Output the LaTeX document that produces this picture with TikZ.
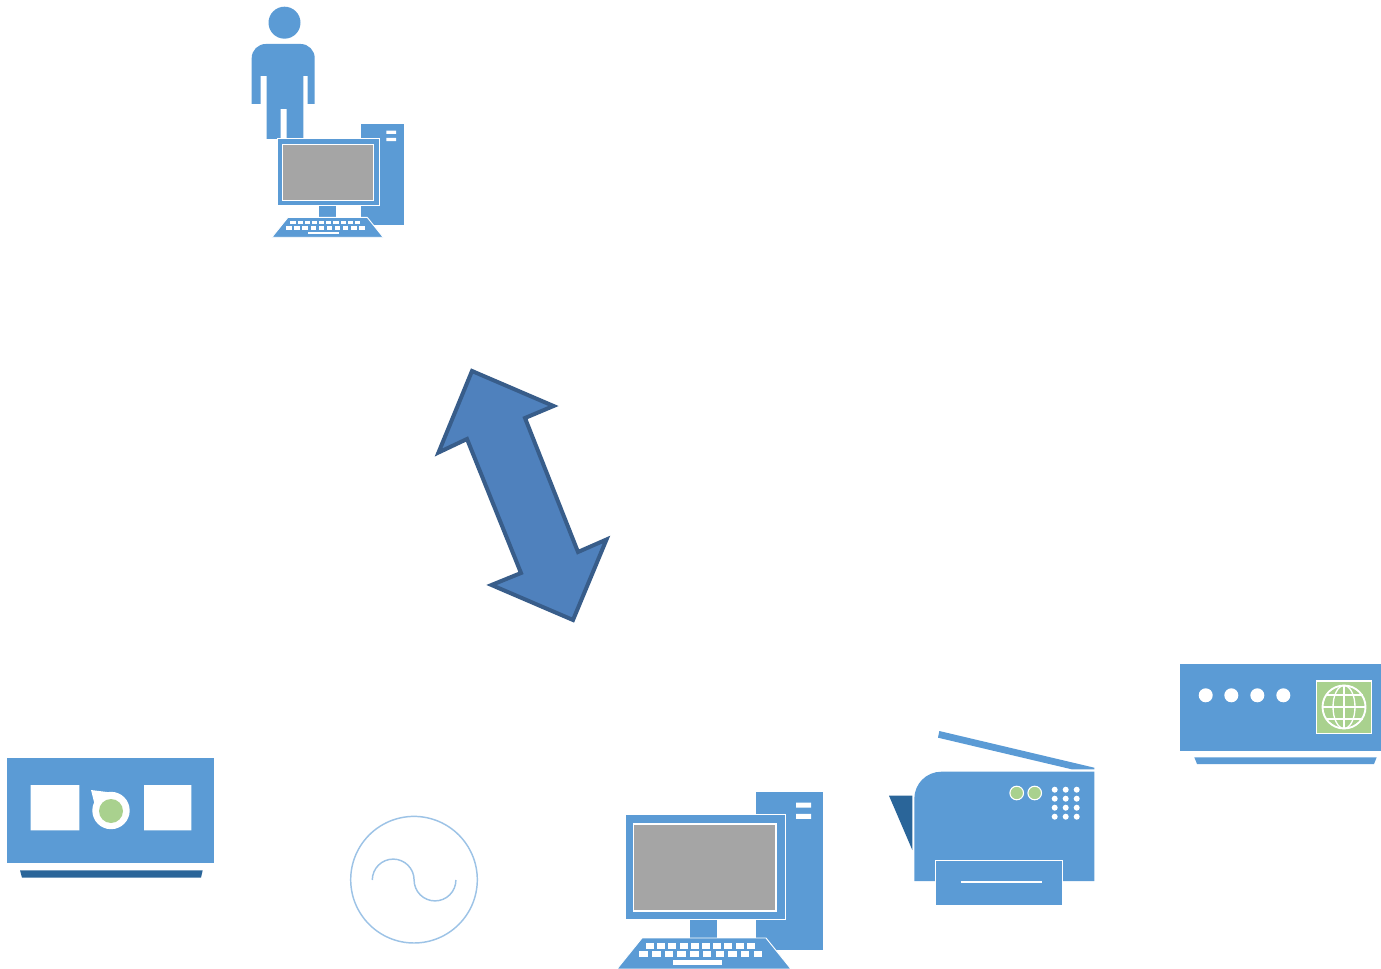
\documentclass[tikz,border=0pt]{standalone}
\definecolor{iconblue}{HTML}{5B9BD5}
\definecolor{icondark}{HTML}{2A6599}
\definecolor{icongreen}{HTML}{A9D18E}
\definecolor{icongray}{HTML}{A5A5A5}
\definecolor{arrowfill}{HTML}{4F81BD}
\definecolor{arrowline}{HTML}{385D8A}
\definecolor{waveline}{HTML}{9DC3E6}
\begin{document}
\begin{tikzpicture}[
        x=0.75pt, y=-0.75pt,
        icon/.style={fill=iconblue},
        outlined/.style={fill=iconblue, draw=white, line width=0.7pt},
        hole/.style={fill=white},
        lamp/.style={fill=icongreen, draw=white, line width=0.8pt},
        gridline/.style={draw=white, line width=1pt},
        computer/.pic={
          \fill[icon] (130.7,0) rectangle (198,158);
          \fill[hole] (171,10.5) rectangle (186,15.5) (171,21.8) rectangle (186,26.8);
          \fill[icon] (65,127) rectangle (92,147);
          \draw[outlined] (0,22) rectangle (160,127);
          \draw[fill=icongray, draw=white, line width=0.9pt] (8.5,32) rectangle (151,119);
          \draw[outlined] (17,146) -- (141,146) -- (166,177) -- (-8,177) -- cycle;
          \foreach \k in {0,...,9} {
            \fill[hole] (21+11.2*\k,150.8) rectangle ++(8,6);
            \fill[hole] (14.3+12.7*\k,159) rectangle ++(8.5,6);
          }
          \fill[hole] (48,168) rectangle (97,172.5);
        }
      ]
      \useasboundingbox (0,0) rectangle (1381,969);

      \fill[icon] (284.5,22.7) circle (16);
      \fill[icon] (251.7,104) -- (251.7,58) arc[start angle=180, end angle=270, radius=14]
        -- (300.7,44) arc[start angle=270, end angle=360, radius=14] -- (314.7,104) -- (307.7,104)
        -- (307.7,76) -- (303.3,76) -- (303.3,138) -- (286.7,138) -- (286.7,109) -- (280.7,109)
        -- (280.7,139) -- (266.7,139) -- (266.7,76) -- (260.7,76) -- (260.7,104) -- cycle;
      \pic[scale=0.64] at (277,124) {computer};

      \draw[fill=arrowfill, draw=arrowline, line width=3pt, miter limit=8]
        (472,371) -- (553.5,406) -- (525,418) -- (578,552) -- (606.5,539.5) -- (573,620)
        -- (491.5,585) -- (521,573) -- (467,439) -- (438.5,452.5) -- cycle;

      \fill[icon] (7.3,758.3) rectangle (214.3,862.7);
      \fill[hole] (30.7,785) rectangle (79.3,830.3) (144,785) rectangle (191.3,830.3);
      \fill[hole] (111,810.5) circle (18.7) (91,790) -- (107,792) -- (95,806) -- cycle;
      \fill[icongreen] (111,811) circle (12);
      \fill[icondark] (20,870.3) -- (202.7,870.3) -- (201,877.7) -- (22,877.7) -- cycle;

      \draw[waveline, line width=1.1pt] (414,879.7) circle (63.3);
      \draw[waveline, line width=1.1pt] (372.3,880) arc[start angle=180, end angle=360, radius=20.9]
        arc[start angle=180, end angle=0, radius=20.9];

      \pic at (625,792) {computer};

      \fill[icondark] (889,795.7) -- (912.3,795.7) -- (912.3,850) -- cycle;
      \fill[icon] (939.3,731) -- (1094.3,767.7) -- (1094.3,769.3) -- (1071.7,769.3) -- (938,737.7) -- cycle;
      \fill[icon] (914.3,881) -- (914.3,798.7) arc[start angle=180, end angle=270, radius=27]
        -- (1094.3,771.7) -- (1094.3,881) -- cycle;
      \draw[outlined] (935.7,860) rectangle (1062,905.5);
      \draw[white, line width=0.8pt] (960.7,882) -- (1042.3,882);
      \draw[lamp] (1016.7,793) circle (6.8) (1034.7,793) circle (6.8);
      \foreach \dx in {1054.7,1065.7,1076.7}
        \foreach \dy in {789.7,798.7,807.7,816.7}
          \fill[hole] (\dx,\dy) circle (3);

      \fill[icon] (1180,664) rectangle (1381,751);
      \foreach \dx in {1205.7,1231.3,1257.3,1283.3}
        \fill[hole] (\dx,695.3) circle (7);
      \draw[fill=icongreen, draw=white, line width=0.8pt] (1316.7,681) rectangle (1371.3,733.7);
      \draw[gridline, line width=1.4pt] (1344,707) circle (21.5);
      \draw[gridline] (1344,707) ellipse (11 and 21.5);
      \draw[gridline] (1344,685) -- (1344,729) (1322,707) -- (1366,707)
        (1325.5,695) -- (1362.5,695) (1325.5,719) -- (1362.5,719);
      \fill[icon] (1194.3,757.3) -- (1376.7,757.3) -- (1374,764) -- (1197,764) -- cycle;
    \end{tikzpicture}
\end{document}
